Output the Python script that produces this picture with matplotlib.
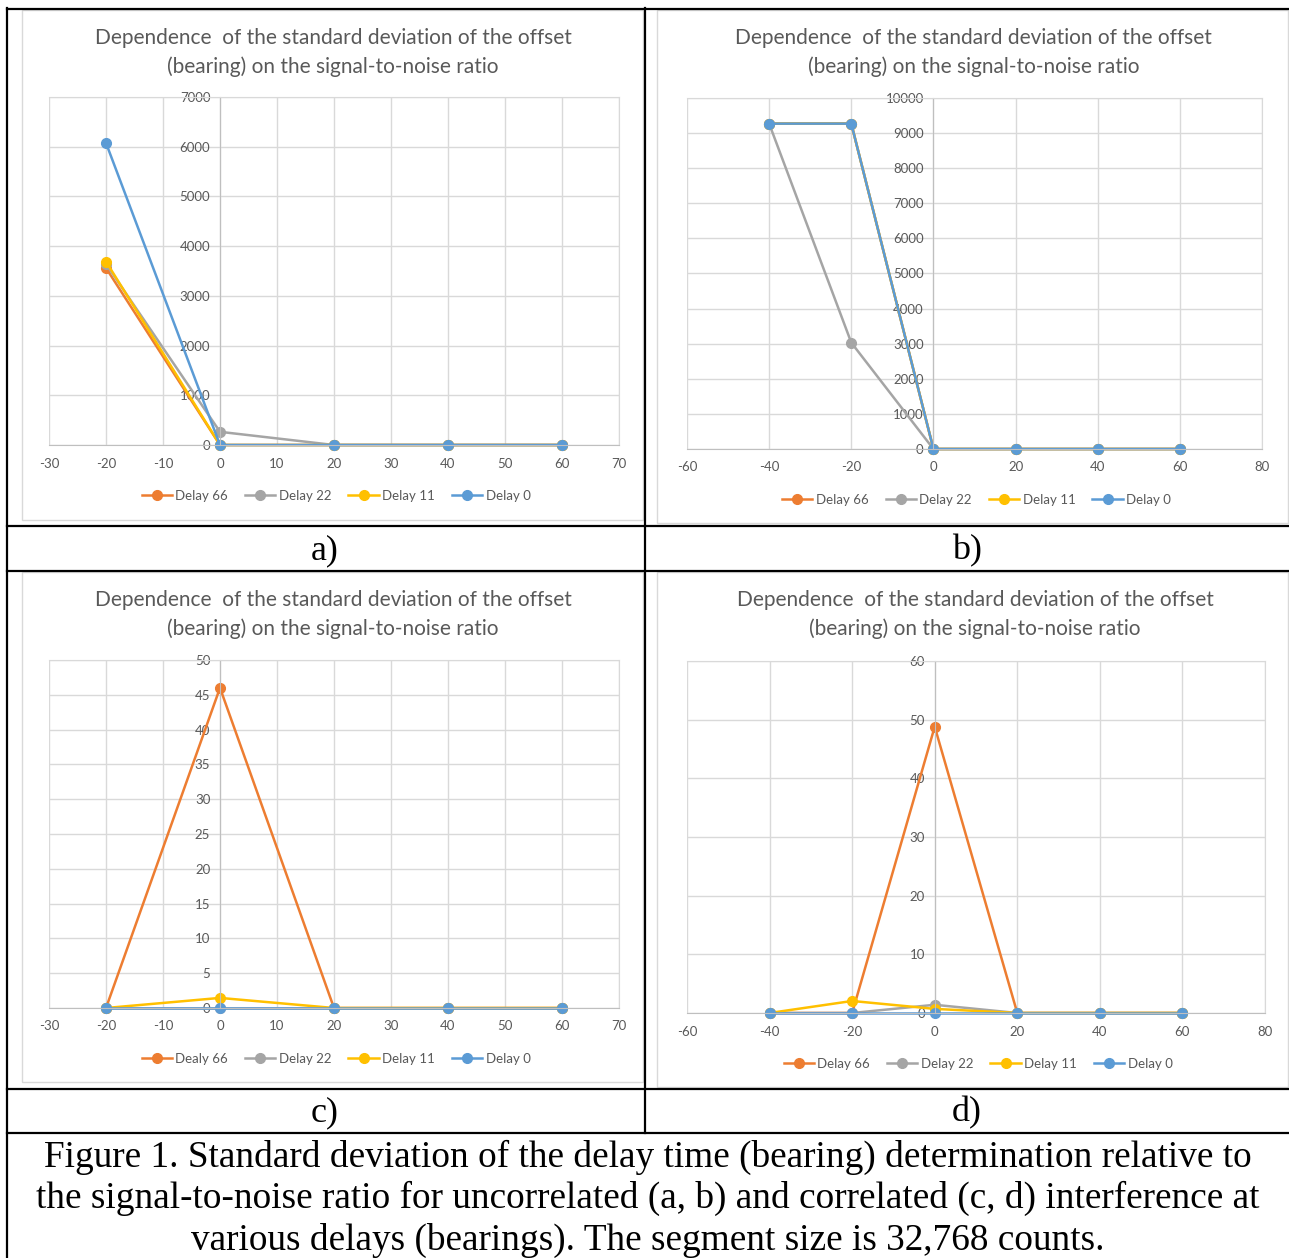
import numpy as np
import matplotlib.pyplot as plt
from matplotlib.lines import Line2D
from matplotlib.patches import Rectangle

plt.rcParams['axes.unicode_minus'] = False

W, H = 1289, 1258

# data
names = ['Delay 66', 'Delay 22', 'Delay 11', 'Delay 0']
names_c = ['Dealy 66', 'Delay 22', 'Delay 11', 'Delay 0']   # typo as in the original
colors = ['#ed7d31', '#a5a5a5', '#ffc000', '#5b9bd5']

snr_a = [-20, 0, 20, 40, 60]
a_d66 = [3560, 0, 0, 0, 0]
a_d22 = [3640, 265, 0, 0, 0]
a_d11 = [3690, 0, 0, 0, 0]
a_d0 = [6075, 0, 0, 0, 0]

snr_b = [-40, -20, 0, 20, 40, 60]
b_d66 = [9270, 9270, 0, 0, 0, 0]
b_d22 = [9270, 3030, 0, 0, 0, 0]
b_d11 = [9270, 9270, 0, 0, 0, 0]
b_d0 = [9270, 9270, 0, 0, 0, 0]

snr_c = [-20, 0, 20, 40, 60]
c_d66 = [0, 46.0, 0, 0, 0]
c_d22 = [0, 0, 0, 0, 0]
c_d11 = [0, 1.45, 0, 0, 0]
c_d0 = [0, 0, 0, 0, 0]

snr_d = [-40, -20, 0, 20, 40, 60]
d_d66 = [0, 0, 48.8, 0, 0, 0]
d_d22 = [0, 0, 1.4, 0, 0, 0]
d_d11 = [0, 2.05, 0.7, 0, 0, 0]
d_d0 = [0, 0, 0, 0, 0, 0]

title = 'Dependence  of the standard deviation of the offset\n(bearing) on the signal-to-noise ratio'
caption = ['Figure 1. Standard deviation of the delay time (bearing) determination relative to',
           'the signal-to-noise ratio for uncorrelated (a, b) and correlated (c, d) interference at',
           'various delays (bearings). The segment size is 32,768 counts.']

txt = '#595959'
grid = '#d9d9d9'
axis_c = '#bfbfbf'
font = 'Lato'

fig = plt.figure(figsize=(W / 100, H / 100), dpi=100)


def fx(x):
    return x / W


def fy(y):
    return 1 - y / H


def chart(box, plot, title_y, leg_y, x, ys, labels, xlim, xstep, ylim, ystep):
    # outer chart frame
    l, t, r, b = box
    fig.add_artist(Rectangle((fx(l), fy(b)), fx(r - l), (b - t) / H,
                             transform=fig.transFigure, fill=False,
                             edgecolor=grid, lw=1))
    l, t, r, b = plot
    ax = fig.add_axes([fx(l), fy(b), fx(r - l), (b - t) / H])
    for y, lab, c in zip(ys, labels, colors):
        ax.plot(x, y, color=c, lw=1.8, marker='o', ms=7, label=lab, clip_on=False)
    ax.set_xlim(xlim)
    ax.set_ylim(ylim)
    ax.set_xticks(np.arange(xlim[0], xlim[1] + 1, xstep))
    ax.set_yticks(np.arange(ylim[0], ylim[1] + 0.01, ystep))
    ax.grid(color=grid, lw=1)
    ax.set_axisbelow(True)
    for s in ['top', 'right']:
        ax.spines[s].set_color(grid)
    ax.spines['left'].set_position(('data', 0))
    ax.spines['left'].set_color(axis_c)
    ax.spines['bottom'].set_color(axis_c)
    ax.tick_params(length=0, labelcolor=txt, labelsize=9.5)
    ax.tick_params(axis='x', pad=9)
    ax.tick_params(axis='y', pad=7)
    for t_ in ax.get_xticklabels() + ax.get_yticklabels():
        t_.set_family(font)
    cx = (l + r) / 2
    fig.text(fx(cx - 1), fy(title_y), title, ha='center', va='center',
             fontsize=15, color=txt, family=font, linespacing=1.55)
    ax.legend(loc='center', bbox_to_anchor=(fx(cx + 2), fy(leg_y)),
              bbox_transform=fig.transFigure, ncol=4, frameon=False,
              handlelength=2.3, handletextpad=0.25, columnspacing=1.3,
              prop={'family': font, 'size': 9.5}, labelcolor=txt)
    return ax


chart((22, 10, 643, 520), (49, 97, 619, 445), 52.5, 496,
      snr_a, [a_d66, a_d22, a_d11, a_d0], names, (-30, 70), 10, (0, 7000), 1000)
chart((657, 10, 1288, 523), (687, 98, 1262, 449), 52.5, 500,
      snr_b, [b_d66, b_d22, b_d11, b_d0], names, (-60, 80), 20, (0, 10000), 1000)
chart((22, 572, 643, 1082), (49, 660, 619, 1008), 614.5, 1059,
      snr_c, [c_d66, c_d22, c_d11, c_d0], names_c, (-30, 70), 10, (0, 50), 5)
chart((657, 572, 1288, 1087), (687, 661, 1265, 1013), 614.5, 1064,
      snr_d, [d_d66, d_d22, d_d11, d_d0], names, (-60, 80), 20, (0, 60), 10)

# table lines
lw = 1.6
for y in [8.5, 526, 570.5, 1089, 1133]:
    fig.add_artist(Line2D([fx(7), 1], [fy(y), fy(y)], color='black', lw=lw))
fig.add_artist(Line2D([fx(7), fx(7)], [fy(8), 0], color='black', lw=lw))
fig.add_artist(Line2D([fx(645), fx(645)], [fy(8), fy(1133)], color='black', lw=lw))

serif = 'Liberation Serif'
for lab, x, y in [('a)', 325, 551), ('b)', 967, 551), ('c)', 325, 1113), ('d)', 967, 1113)]:
    fig.text(fx(x), fy(y), lab, ha='center', va='center', fontsize=26, family=serif)
for i, line in enumerate(caption):
    fig.text(fx(648), fy(1157 + 41.5 * i), line, ha='center', va='center',
             fontsize=26.8, family=serif)

fig.savefig('out.png', dpi=100)
